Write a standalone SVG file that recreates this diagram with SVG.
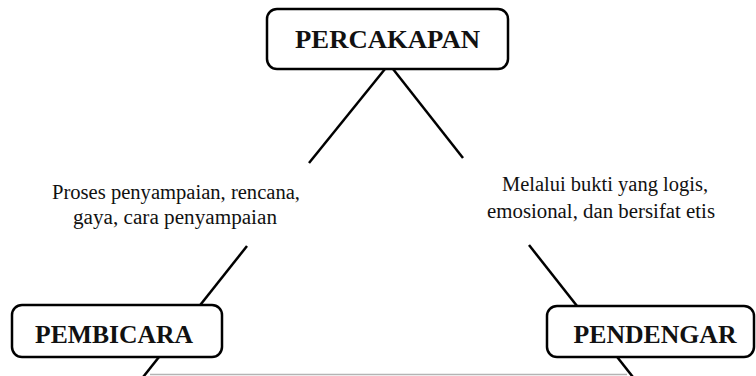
<svg xmlns="http://www.w3.org/2000/svg" width="756" height="376" viewBox="0 0 756 376">
  <style>
    .box { fill: #ffffff; stroke: #000000; stroke-width: 2.5; }
    .title { font-family: 'Liberation Serif', serif; font-weight: bold; font-size: 26px; fill: #111111; text-anchor: middle; }
    .lbl { font-family: 'Liberation Serif', serif; font-size: 20px; fill: #111111; text-anchor: middle; }
    .edge { stroke: #000000; stroke-width: 2.5; fill: none; stroke-linecap: butt; }
    .base { stroke: #b4b4b4; stroke-width: 1.5; fill: none; }
  </style>
  <rect width="756" height="376" fill="#ffffff"/>
  <g id="connectors">
    <line class="edge" x1="385" y1="69" x2="309" y2="163"/>
    <line class="edge" x1="247" y1="246" x2="136" y2="386"/>
    <line class="edge" x1="393" y1="69" x2="463" y2="158"/>
    <line class="edge" x1="529" y1="245" x2="640" y2="386"/>
    <line class="base" x1="150" y1="374.5" x2="627" y2="374.5"/>
  </g>
  <g id="label-left">
    <text class="lbl" x="176" y="199" textLength="248" lengthAdjust="spacingAndGlyphs">Proses penyampaian, rencana,</text>
    <text class="lbl" x="175" y="224" textLength="204" lengthAdjust="spacingAndGlyphs">gaya, cara penyampaian</text>
  </g>
  <g id="label-right">
    <text class="lbl" x="605" y="191" textLength="206" lengthAdjust="spacingAndGlyphs">Melalui bukti yang logis,</text>
    <text class="lbl" x="601" y="218" textLength="228" lengthAdjust="spacingAndGlyphs">emosional, dan bersifat etis</text>
  </g>
  <g id="node-percakapan">
    <rect class="box" x="267" y="9" width="241" height="60" rx="10" ry="10"/>
    <text class="title" x="387.5" y="48" textLength="185" lengthAdjust="spacingAndGlyphs">PERCAKAPAN</text>
  </g>
  <g id="node-pembicara">
    <rect class="box" x="12" y="305" width="210" height="52" rx="10" ry="10"/>
    <text class="title" x="114" y="343" textLength="158" lengthAdjust="spacingAndGlyphs">PEMBICARA</text>
  </g>
  <g id="node-pendengar">
    <rect class="box" x="547" y="306" width="207" height="51" rx="10" ry="10"/>
    <text class="title" x="655" y="343" textLength="163" lengthAdjust="spacingAndGlyphs">PENDENGAR</text>
  </g>
</svg>
